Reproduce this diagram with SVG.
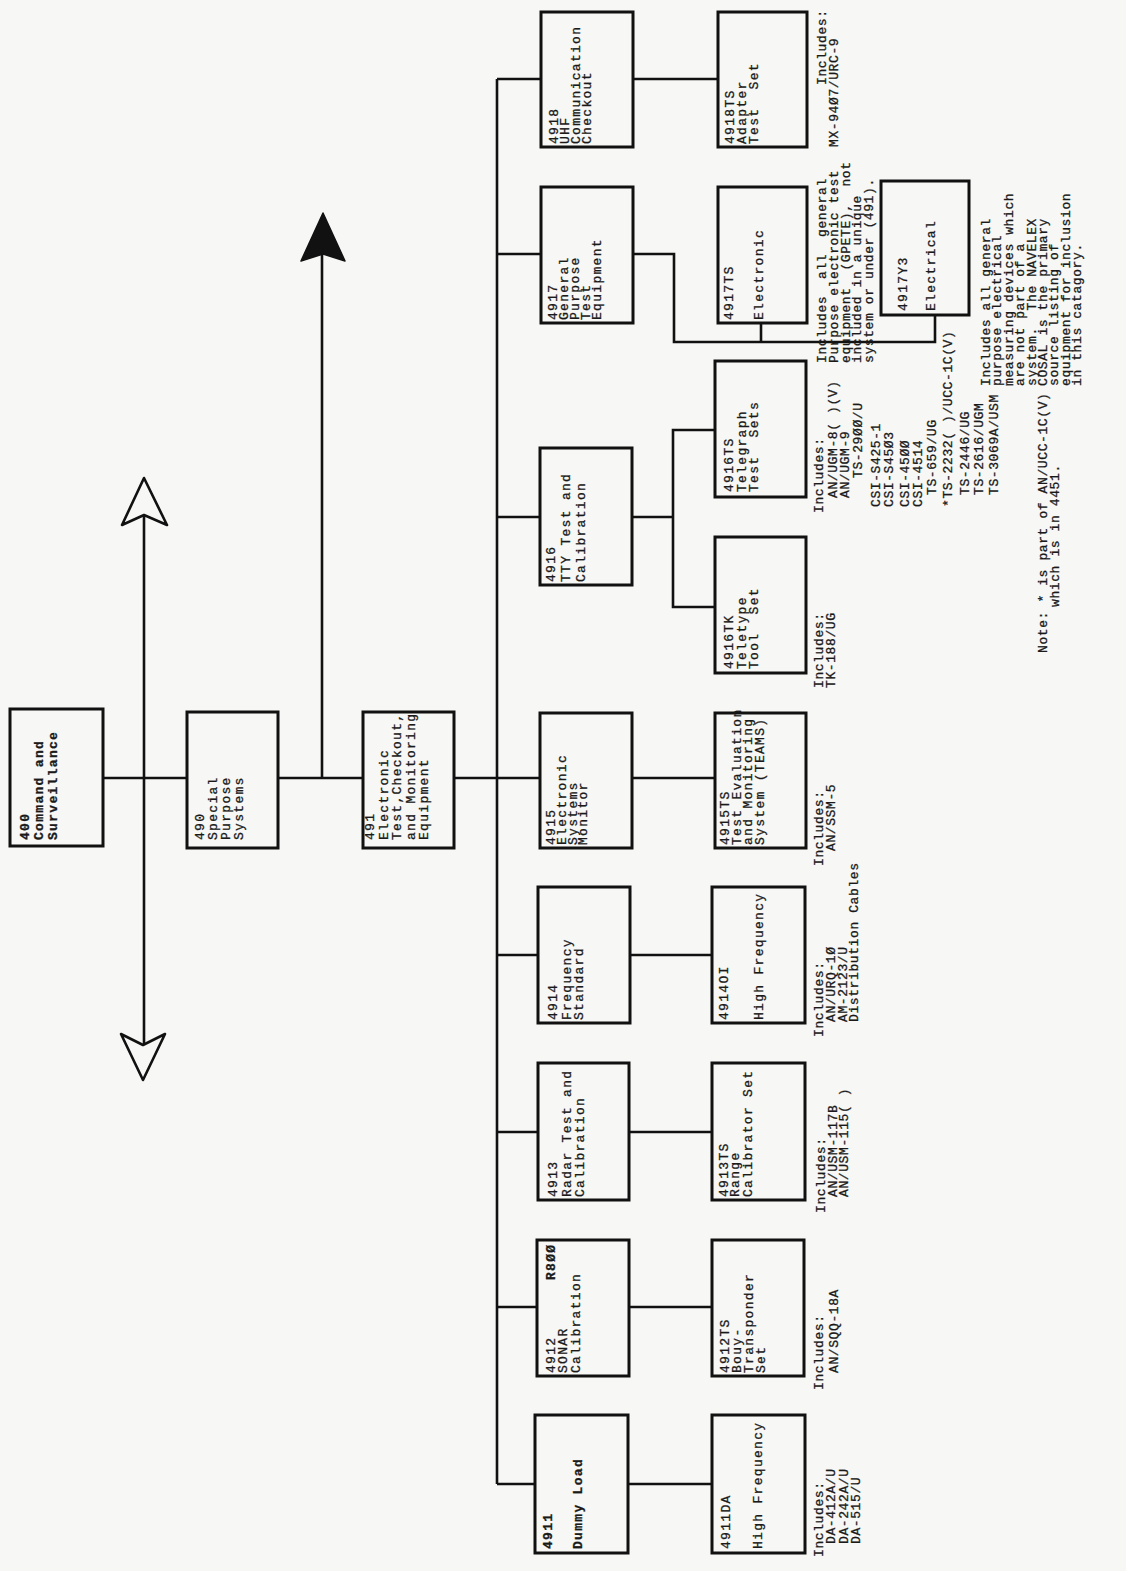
<svg xmlns="http://www.w3.org/2000/svg" width="1126" height="1571" viewBox="0 0 1126 1571">
<style>
.bg{fill:#f7f7f5}
.box{fill:none;stroke:#111;stroke-width:3}
.ln{fill:none;stroke:#111;stroke-width:2.6}
.t{font-family:"Liberation Mono","DejaVu Sans Mono",monospace;font-size:13px;letter-spacing:1.3px;fill:#1a1a1a;stroke:#1a1a1a;stroke-width:0.3;white-space:pre}
.i{font-family:"Liberation Mono","DejaVu Sans Mono",monospace;font-size:13px;letter-spacing:0.6px;fill:#1a1a1a;stroke:#1a1a1a;stroke-width:0.3;white-space:pre}
.b{font-weight:bold}
</style>
<rect class="bg" x="0" y="0" width="1126" height="1571"/>

<g id="connectors">
  <line class="ln" x1="103" y1="778" x2="187" y2="778"/>
  <line class="ln" x1="278" y1="778" x2="363" y2="778"/>
  <line class="ln" x1="454" y1="778" x2="497" y2="778"/>
  <line class="ln" x1="144" y1="515" x2="144" y2="1045"/>
  <polygon points="144,478 167,525 144,515 122,525" fill="#f7f7f5" stroke="#111" stroke-width="2.6" stroke-linejoin="round"/>
  <polygon points="143,1080 165,1034 143,1045 121,1034" fill="#f7f7f5" stroke="#111" stroke-width="2.6" stroke-linejoin="round"/>
  <line class="ln" x1="322" y1="778" x2="322" y2="255"/>
  <polygon points="323,213 345,261 323,254 301,261" fill="#111" stroke="#111" stroke-width="1.5" stroke-linejoin="round"/>
  <line class="ln" x1="497" y1="79" x2="497" y2="1484"/>
  <line class="ln" x1="497" y1="79" x2="541" y2="79"/>
  <line class="ln" x1="497" y1="254" x2="541" y2="254"/>
  <line class="ln" x1="497" y1="517" x2="540" y2="517"/>
  <line class="ln" x1="497" y1="778" x2="540" y2="778"/>
  <line class="ln" x1="497" y1="955" x2="538" y2="955"/>
  <line class="ln" x1="497" y1="1132" x2="538" y2="1132"/>
  <line class="ln" x1="497" y1="1307" x2="537" y2="1307"/>
  <line class="ln" x1="497" y1="1484" x2="535" y2="1484"/>
  <line class="ln" x1="633" y1="79" x2="718" y2="79"/>
  <polyline class="ln" points="633,254 674,254 674,342 935,342 935,315"/>
  <line class="ln" x1="761" y1="323" x2="761" y2="342"/>
  <line class="ln" x1="632" y1="517" x2="673" y2="517"/>
  <polyline class="ln" points="715,430 673,430 673,607 715,607"/>
  <line class="ln" x1="632" y1="778" x2="715" y2="778"/>
  <line class="ln" x1="630" y1="955" x2="712" y2="955"/>
  <line class="ln" x1="629" y1="1132" x2="712" y2="1132"/>
  <line class="ln" x1="629" y1="1307" x2="712" y2="1307"/>
  <line class="ln" x1="628" y1="1484" x2="712" y2="1484"/>
</g>

<g id="n400">
  <rect class="box" x="10" y="709" width="93" height="137"/>
  <text class="t b" transform="translate(29 840) rotate(-90)"><tspan x="0" y="0">400</tspan><tspan x="0" y="14">Command and</tspan><tspan x="0" y="28">Surveillance</tspan></text>
</g>
<g id="n490">
  <rect class="box" x="187" y="712" width="91" height="136"/>
  <text class="t" transform="translate(204 840) rotate(-90)"><tspan x="0" y="0">490</tspan><tspan x="0" y="13">Special</tspan><tspan x="0" y="26">Purpose</tspan><tspan x="0" y="39">Systems</tspan></text>
</g>
<g id="n491">
  <rect class="box" x="363" y="712" width="91" height="136"/>
  <text class="t" transform="translate(374 840) rotate(-90)"><tspan x="0" y="0">491</tspan><tspan x="0" y="14">Electronic</tspan><tspan x="0" y="27">Test,Checkout,</tspan><tspan x="0" y="41">and Monitoring</tspan><tspan x="0" y="54">Equipment</tspan></text>
</g>

<g id="n4918">
  <rect class="box" x="541" y="12" width="92" height="135"/>
  <text class="t" transform="translate(558 144) rotate(-90)"><tspan x="0" y="0">4918</tspan><tspan x="0" y="11">UHF</tspan><tspan x="0" y="22">Communication</tspan><tspan x="0" y="33">Checkout</tspan></text>
</g>
<g id="n4918TS">
  <rect class="box" x="718" y="12" width="89" height="135"/>
  <text class="t" transform="translate(734 144) rotate(-90)"><tspan x="0" y="0">4918TS</tspan><tspan x="0" y="12">Adapter</tspan><tspan x="0" y="24">Test  Set</tspan></text>
</g>
<g id="n4917">
  <rect class="box" x="541" y="187" width="92" height="136"/>
  <text class="t" transform="translate(557 320) rotate(-90)"><tspan x="0" y="0">4917</tspan><tspan x="0" y="11">General</tspan><tspan x="0" y="22">Purpose</tspan><tspan x="0" y="33">Test</tspan><tspan x="0" y="44">Equipment</tspan></text>
</g>
<g id="n4917TS">
  <rect class="box" x="718" y="187" width="89" height="136"/>
  <text class="t" transform="translate(733 320) rotate(-90)"><tspan x="0" y="0">4917TS</tspan><tspan x="0" y="30">Electronic</tspan></text>
</g>
<g id="n4917Y3">
  <rect class="box" x="881" y="181" width="88" height="134"/>
  <text class="t" transform="translate(907 311) rotate(-90)"><tspan x="0" y="0">4917Y3</tspan><tspan x="0" y="28">Electrical</tspan></text>
</g>
<g id="n4916">
  <rect class="box" x="540" y="448" width="92" height="137"/>
  <text class="t" transform="translate(555 582) rotate(-90)"><tspan x="0" y="0">4916</tspan><tspan x="0" y="15">TTY Test and</tspan><tspan x="0" y="30">Calibration</tspan></text>
</g>
<g id="n4916TS">
  <rect class="box" x="715" y="361" width="91" height="136"/>
  <text class="t" transform="translate(733 492) rotate(-90)"><tspan x="0" y="0">4916TS</tspan><tspan x="0" y="13">Telegraph</tspan><tspan x="0" y="25">Test  Sets</tspan></text>
</g>
<g id="n4916TK">
  <rect class="box" x="715" y="537" width="91" height="136"/>
  <text class="t" transform="translate(733 669) rotate(-90)"><tspan x="0" y="0">4916TK</tspan><tspan x="0" y="13">Teletype</tspan><tspan x="0" y="25">Tool  Set</tspan></text>
</g>
<g id="n4915">
  <rect class="box" x="540" y="713" width="92" height="135"/>
  <text class="t" transform="translate(555 845) rotate(-90)"><tspan x="0" y="0">4915</tspan><tspan x="0" y="11">Electronic</tspan><tspan x="0" y="22">Systems</tspan><tspan x="0" y="32">Monitor</tspan></text>
</g>
<g id="n4915TS">
  <rect class="box" x="715" y="713" width="91" height="135"/>
  <text class="t" transform="translate(729 845) rotate(-90)"><tspan x="0" y="0">4915TS</tspan><tspan x="0" y="12">Test Evaluation</tspan><tspan x="0" y="23">and Monitoring</tspan><tspan x="0" y="35">System (TEAMS)</tspan></text>
</g>
<g id="n4914">
  <rect class="box" x="538" y="887" width="92" height="136"/>
  <text class="t" transform="translate(557 1020) rotate(-90)"><tspan x="0" y="0">4914</tspan><tspan x="0" y="14">Frequency</tspan><tspan x="0" y="26">Standard</tspan></text>
</g>
<g id="n4914OI">
  <rect class="box" x="712" y="887" width="93" height="136"/>
  <text class="t" transform="translate(728 1020) rotate(-90)"><tspan x="0" y="0">4914OI</tspan><tspan x="0" y="35">High Frequency</tspan></text>
</g>
<g id="n4913">
  <rect class="box" x="538" y="1063" width="91" height="137"/>
  <text class="t" transform="translate(557 1197) rotate(-90)"><tspan x="0" y="0">4913</tspan><tspan x="0" y="14">Radar Test and</tspan><tspan x="0" y="27">Calibration</tspan></text>
</g>
<g id="n4913TS">
  <rect class="box" x="712" y="1063" width="93" height="137"/>
  <text class="t" transform="translate(728 1197) rotate(-90)"><tspan x="0" y="0">4913TS</tspan><tspan x="0" y="11">Range</tspan><tspan x="0" y="24">Calibrator Set</tspan></text>
</g>
<g id="n4912">
  <rect class="box" x="537" y="1240" width="92" height="136"/>
  <text class="t" transform="translate(555 1373) rotate(-90)"><tspan x="0" y="0">4912</tspan><tspan x="0" y="12">SONAR</tspan><tspan x="0" y="25">Calibration</tspan></text>
  <text class="t b" transform="translate(555 1280) rotate(-90)">R8ØØ</text>
</g>
<g id="n4912TS">
  <rect class="box" x="712" y="1240" width="92" height="136"/>
  <text class="t" transform="translate(729 1373) rotate(-90)"><tspan x="0" y="0">4912TS</tspan><tspan x="0" y="12">Bouy-</tspan><tspan x="0" y="24">Transponder</tspan><tspan x="0" y="36">Set</tspan></text>
</g>
<g id="n4911">
  <rect class="box" x="535" y="1415" width="93" height="138"/>
  <text class="t b" transform="translate(552 1549) rotate(-90)"><tspan x="0" y="0">4911</tspan><tspan x="0" y="30">Dummy Load</tspan></text>
</g>
<g id="n4911DA">
  <rect class="box" x="712" y="1415" width="93" height="138"/>
  <text class="t" transform="translate(730 1549) rotate(-90)"><tspan x="0" y="0">4911DA</tspan><tspan x="0" y="32">High Frequency</tspan></text>
</g>

<g id="notes">
  <text class="i" transform="translate(826 363) rotate(-90)"><tspan x="0" y="0">Includes  all  general</tspan><tspan x="0" y="12">Purpose electronic test</tspan><tspan x="0" y="24">equipment  (GPETE),  not</tspan><tspan x="0" y="35">included in a unique</tspan><tspan x="0" y="47">system or under (491).</tspan></text>
  <text class="i" transform="translate(826 85) rotate(-90)">Includes:</text>
  <text class="i" transform="translate(838 147) rotate(-90)">MX-94Ø7/URC-9</text>

  <text class="i" transform="translate(990 386) rotate(-90)"><tspan x="0" y="0">Includes all general</tspan><tspan x="0" y="11.4">purpose electrical</tspan><tspan x="0" y="22.8">measuring devices which</tspan><tspan x="0" y="34.2">are not part of a</tspan><tspan x="0" y="45.6">system.  The NAVELEX</tspan><tspan x="0" y="57">COSAL is the primary</tspan><tspan x="0" y="68.4">source listing of</tspan><tspan x="0" y="79.8">equipment for inclusion</tspan><tspan x="0" y="91.2">in this catagory.</tspan></text>

  <text class="i" transform="translate(823 513) rotate(-90)">Includes:</text>
  <text class="i" transform="translate(837 498) rotate(-90)">AN/UGM-8( )(V)</text>
  <text class="i" transform="translate(849 498) rotate(-90)">AN/UGM-9</text>
  <text class="i" transform="translate(862 478) rotate(-90)">TS-29ØØ/U</text>
  <text class="i" transform="translate(880 507) rotate(-90)">CSI-S425-1</text>
  <text class="i" transform="translate(893 507) rotate(-90)">CSI-S45Ø3</text>
  <text class="i" transform="translate(909 507) rotate(-90)">CSI-45ØØ</text>
  <text class="i" transform="translate(922 507) rotate(-90)">CSI-4514</text>
  <text class="i" transform="translate(936 495) rotate(-90)">TS-659/UG</text>
  <text class="i" transform="translate(952 507) rotate(-90)">*TS-2232( )/UCC-1C(V)</text>
  <text class="i" transform="translate(969 495) rotate(-90)">TS-2446/UG</text>
  <text class="i" transform="translate(983 495) rotate(-90)">TS-2616/UGM</text>
  <text class="i" transform="translate(998 495) rotate(-90)">TS-3069A/USM</text>

  <text class="i" transform="translate(1047 653) rotate(-90)">Note: * is part of AN/UCC-1C(V)</text>
  <text class="i" transform="translate(1059 607) rotate(-90)">which is in 4451.</text>

  <text class="i" transform="translate(823 688) rotate(-90)"><tspan x="0" y="0">Includes:</tspan><tspan x="0" y="12">TK-188/UG</tspan></text>
  <text class="i" transform="translate(823 866) rotate(-90)">Includes:</text>
  <text class="i" transform="translate(835 851) rotate(-90)">AN/SSM-5</text>
  <text class="i" transform="translate(823 1037) rotate(-90)">Includes:</text>
  <text class="i" transform="translate(835 1022) rotate(-90)"><tspan x="0" y="0">AN/URQ-1Ø</tspan><tspan x="0" y="12">AM-2123/U</tspan><tspan x="0" y="23">Distribution Cables</tspan></text>
  <text class="i" transform="translate(825 1213) rotate(-90)">Includes:</text>
  <text class="i" transform="translate(837 1197) rotate(-90)"><tspan x="0" y="0">AN/USM-117B</tspan><tspan x="0" y="11">AN/USM-115( )</tspan></text>
  <text class="i" transform="translate(823 1390) rotate(-90)">Includes:</text>
  <text class="i" transform="translate(838 1373) rotate(-90)">AN/SQQ-18A</text>
  <text class="i" transform="translate(823 1557) rotate(-90)">Includes:</text>
  <text class="i" transform="translate(835 1544) rotate(-90)"><tspan x="0" y="0">DA-412A/U</tspan><tspan x="0" y="12.5">DA-242A/U</tspan><tspan x="0" y="25">DA-515/U</tspan></text>
</g>
</svg>
